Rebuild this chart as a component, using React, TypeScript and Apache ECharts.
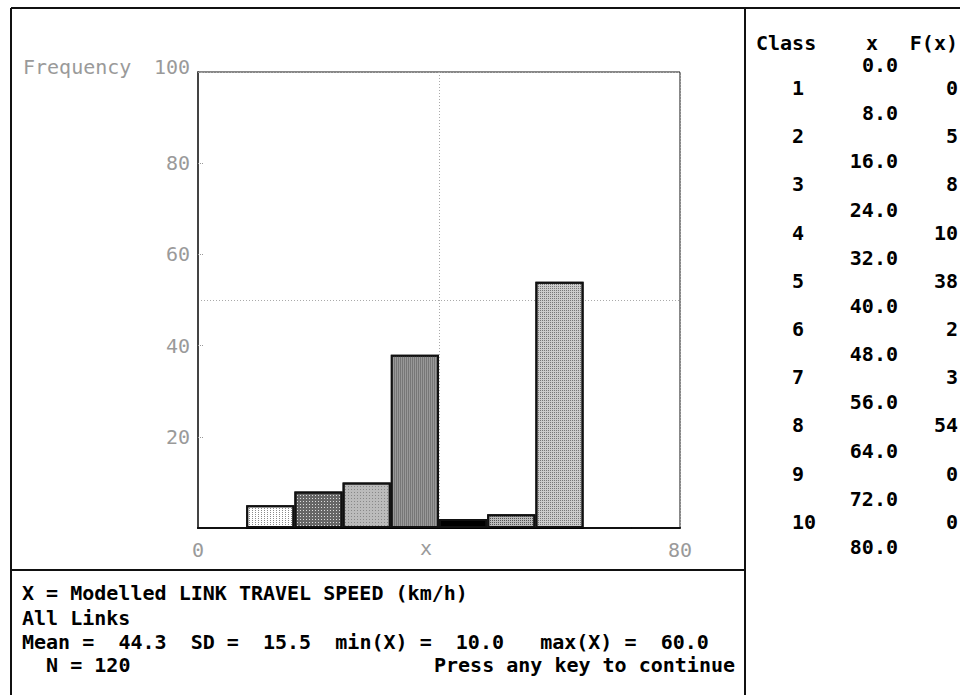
import React, { useEffect, useRef } from 'react';
import * as echarts from 'echarts';

// ---- data ----
const classes = ['1', '2', '3', '4', '5', '6', '7', '8', '9', '10'];
const boundaries = ['0.0', '8.0', '16.0', '24.0', '32.0', '40.0', '48.0', '56.0', '64.0', '72.0', '80.0'];
const frequencies = [0, 5, 8, 10, 38, 2, 3, 54, 0, 0];
const xRange = [0, 80];
const yRange = [0, 100];
const xAxisName = 'x';
const yAxisName = 'Frequency';
const infoLines = [
  'X = Modelled LINK TRAVEL SPEED (km/h)',
  'All Links',
  'Mean =  44.3  SD =  15.5  min(X) =  10.0   max(X) =  60.0',
  '  N = 120',
];
const promptText = 'Press any key to continue';
const tableHeader = ['Class', 'x', 'F(x)'];

// ---- styles ----
const MONO = '"DejaVu Sans Mono", "Liberation Mono", monospace';
const GRAY = '#9a9a9a';
const CHAR_W = 12.05;

const barStyles: any[] = [
  { color: '#fff' },
  { color: '#fff', decal: { symbol: 'rect', symbolSize: 1, dashArrayX: [1, 2], dashArrayY: [1, 1], color: '#8a8a8a', backgroundColor: '#fff' } },
  { color: '#666', decal: { symbol: 'rect', symbolSize: 1, dashArrayX: [1, 2], dashArrayY: [1, 2], color: '#ddd', backgroundColor: '#555' } },
  { color: '#bbb', decal: { symbol: 'rect', symbolSize: 1, dashArrayX: [1, 2], dashArrayY: [1, 2], color: '#888', backgroundColor: '#d4d4d4' } },
  { color: '#999', decal: { symbol: 'rect', symbolSize: 1, dashArrayX: [1, 1], dashArrayY: [8, 0], color: '#777', backgroundColor: '#d6d6d6' } },
  { color: '#000' },
  { color: '#bbb', decal: { symbol: 'rect', symbolSize: 1, dashArrayX: [1, 1], dashArrayY: [1, 1], color: '#555', backgroundColor: '#fff' } },
  { color: '#ccc', decal: { symbol: 'rect', symbolSize: 1, dashArrayX: [1, 1], dashArrayY: [1, 1], color: '#777', backgroundColor: '#fff' } },
  { color: '#fff' },
  { color: '#fff' },
];

// place a monospace line token by token so column positions are kept
function monoLine(str: string, x0: number, y: number, opts: any = {}) {
  const els: any[] = [];
  const re = /\S+/g;
  let m: RegExpExecArray | null;
  while ((m = re.exec(str)) !== null) {
    els.push({
      type: 'text',
      x: x0 + m.index * CHAR_W,
      y,
      silent: true,
      style: {
        text: m[0],
        fill: opts.fill || '#000',
        font: `${opts.weight || 'bold'} 20px ${MONO}`,
        verticalAlign: 'middle',
        align: 'left',
      },
    });
  }
  return els;
}

function txt(text: string, x: number, y: number, align: string, fill = '#000', weight = 'bold') {
  return {
    type: 'text',
    x,
    y,
    silent: true,
    style: { text, fill, font: `${weight} 20px ${MONO}`, verticalAlign: 'middle', align },
  };
}

function ln(x1: number, y1: number, x2: number, y2: number, w = 2, color = '#111') {
  return { type: 'line', silent: true, shape: { x1, y1, x2, y2 }, style: { stroke: color, lineWidth: w } };
}

export default function App() {
  const ref = useRef<HTMLDivElement>(null);

  useEffect(() => {
    if (!ref.current) return;
    const chart = echarts.init(ref.current, null, { renderer: 'svg' });

    const graphics: any[] = [];
    // frame
    graphics.push(ln(11, 8, 960, 8));
    graphics.push(ln(11, 8, 11, 695));
    graphics.push(ln(745, 8, 745, 695));
    graphics.push(ln(11, 570, 745, 570));

    // axis titles
    graphics.push(txt(yAxisName, 23, 67, 'left', GRAY, 'normal'));
    graphics.push(txt(xAxisName, 426, 548, 'center', GRAY, 'normal'));

    // right table
    graphics.push(txt(tableHeader[0], 756, 43, 'left'));
    graphics.push(txt(tableHeader[1], 878, 43, 'right'));
    graphics.push(txt(tableHeader[2], 958, 43, 'right'));
    const rowStep = 48.2;
    boundaries.forEach((b, k) => {
      graphics.push(txt(b, 898, 65 + rowStep * k, 'right'));
    });
    classes.forEach((c, k) => {
      const y = 65 + rowStep * k + 23;
      graphics.push(txt(c, 792, y, 'left'));
      graphics.push(txt(String(frequencies[k]), 958, y, 'right'));
    });

    // bottom info
    const lineYs = [593, 618, 642, 665];
    infoLines.forEach((s, i) => {
      graphics.push(...monoLine(s, 22, lineYs[i]));
    });
    graphics.push(txt(promptText, 434, 665, 'left'));

    const option: any = {
      animation: false,
      backgroundColor: '#fff',
      grid: {
        left: 198,
        top: 72,
        width: 482,
        height: 456,
        show: true,
        borderColor: '#111',
        borderWidth: 1,
        backgroundColor: 'transparent',
      },
      xAxis: [
        {
          type: 'value',
          min: xRange[0],
          max: xRange[1],
          interval: 40,
          position: 'bottom',
          axisLine: { show: true, lineStyle: { color: '#000', width: 2 } },
          axisTick: { show: false },
          axisLabel: {
            color: GRAY,
            fontFamily: MONO,
            fontSize: 20,
            margin: 12,
            formatter: (v: number) => (v === 40 ? '' : String(v)),
          },
          splitLine: { show: true, lineStyle: { color: '#aaa', width: 1, type: [1, 2] } },
        },
        {
          type: 'category',
          data: classes,
          show: false,
          boundaryGap: true,
        },
      ],
      yAxis: [
        {
          type: 'value',
          min: yRange[0],
          max: yRange[1],
          interval: 20,
          axisLine: { show: true, lineStyle: { color: '#444', width: 2 } },
          axisTick: { show: true, inside: true, length: 6, lineStyle: { color: '#999', type: [1, 1] } },
          axisLabel: {
            color: GRAY,
            fontFamily: MONO,
            fontSize: 20,
            margin: 8,
            formatter: (v: number) => (v === 0 ? '' : v === 100 ? '{t|100}' : String(v)),
            rich: { t: { color: GRAY, fontFamily: MONO, fontSize: 20, padding: [0, 0, 10, 0] } },
          },
          splitLine: { show: false },
        },
        {
          type: 'value',
          min: yRange[0],
          max: yRange[1],
          interval: 50,
          position: 'left',
          axisLine: { show: false },
          axisTick: { show: false },
          axisLabel: { show: false },
          splitLine: { show: true, lineStyle: { color: '#aaa', width: 1, type: [1, 2] } },
        },
      ],
      series: [
        {
          type: 'bar',
          xAxisIndex: 1,
          yAxisIndex: 0,
          barWidth: '100%',
          barCategoryGap: '0%',
          itemStyle: { borderColor: '#111', borderWidth: 2 },
          data: frequencies.map((v, i) => ({ value: v, itemStyle: barStyles[i] })),
          z: 3,
        },
      ],
      graphic: graphics,
    };

    chart.setOption(option);
    return () => chart.dispose();
  }, []);

  return (
    <div
      ref={ref}
      style={{ position: 'fixed', left: 0, top: 0, width: 960, height: 695, background: '#fff' }}
    />
  );
}
